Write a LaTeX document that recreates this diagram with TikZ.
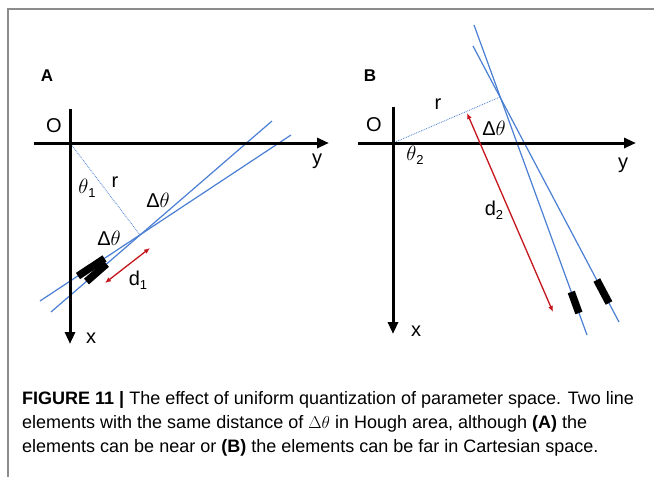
\documentclass[tikz,border=0pt]{standalone}
\usepackage{fontspec}
\setmainfont{Liberation Sans}
\usetikzlibrary{arrows.meta}
\definecolor{lineblue}{HTML}{4A7FD4}
\definecolor{arrred}{HTML}{C4161C}
\definecolor{framegray}{HTML}{8C8C8C}
\newcommand{\mysubtext}[1]{\raisebox{-4pt}{\fontsize{13}{13}\selectfont #1}}
\begin{document}
\begin{tikzpicture}[x=1pt,y=-1pt,
  axis/.style={line width=3pt,-{Triangle[length=12pt,width=10pt]}},
  hline/.style={lineblue,line width=1.2pt},
  rline/.style={lineblue,densely dotted,line width=0.8pt},
  darrow/.style={arrred,line width=1.3pt,{Latex[length=6pt,width=5pt]}-{Latex[length=6pt,width=5pt]}},
  elem/.style={black,line width=7.5pt},
  lbl/.style={font=\fontsize{20}{20}\selectfont,inner sep=0pt},
  panel/.style={font=\bfseries\fontsize{17}{17}\selectfont,inner sep=0pt},
  captext/.style={font=\fontsize{18}{18}\selectfont,inner sep=0pt,anchor=base west}]
\useasboundingbox (0,0) rectangle (654,477);
\fill[white] (0,0) rectangle (654,477);
% frame
\draw[framegray,line width=2pt] (654,8.5) -- (7.5,8.5) -- (7.5,477);

% ---------- Panel A ----------
\coordinate (OA) at (70,143);
\coordinate (AxT) at (70,109);
\coordinate (AxB) at (70,344);
\coordinate (AyL) at (34,143);
\coordinate (AyR) at (329,143);
\coordinate (a1) at (51,312);
\coordinate (a2) at (272,121);
\coordinate (b1) at (40,301);
\coordinate (b2) at (291,135);
\coordinate (P) at (140,235);
\coordinate (ea1) at (86.5,281.5);
\coordinate (ea2) at (106.5,264);
\coordinate (eb1) at (78,276);
\coordinate (eb2) at (104.5,258.5);
\coordinate (d1s) at (105,283);
\coordinate (d1e) at (150,248);

\draw[rline] (OA) -- (P);
\draw[hline] (a1) -- (a2);
\draw[hline] (b1) -- (b2);
\draw[elem] (ea1) -- (ea2);
\draw[elem] (eb1) -- (eb2);
\draw[axis] (AxT) -- (AxB);
\draw[axis] (AyL) -- (AyR);
\draw[darrow] (d1s) -- (d1e);

\node[panel] (labA) at (47,76) {A};
\node[lbl] (labOA) at (54,126) {O};
\node[lbl] (labyA) at (317,161) {y};
\node[lbl] (labxA) at (91,338) {x};
\node[lbl] (labth1) at (87,188) {$\theta$\mysubtext{1}};
\node[lbl] (labrA) at (115,182) {r};
\node[lbl] (labdtA1) at (158,200) {Δ$\theta$};
\node[lbl] (labdtA2) at (109,238) {Δ$\theta$};
\node[lbl] (labd1) at (138,280) {d\mysubtext{1}};

% ---------- Panel B ----------
\coordinate (OB) at (393,143);
\coordinate (BxT) at (393,107);
\coordinate (BxB) at (393,334);
\coordinate (ByL) at (358,143);
\coordinate (ByR) at (636,143);
\coordinate (s1) at (474,25);
\coordinate (s2) at (587,335);
\coordinate (t1) at (473,46);
\coordinate (t2) at (619,322);
\coordinate (Q) at (500,97);
\coordinate (es1) at (571.3,292);
\coordinate (es2) at (578.9,313);
\coordinate (et1) at (596.8,280);
\coordinate (et2) at (609,303);
\coordinate (d2s) at (467,113);
\coordinate (d2e) at (553,312);

\draw[rline] (OB) -- (Q);
\draw[hline] (s1) -- (s2);
\draw[hline] (t1) -- (t2);
\draw[elem] (es1) -- (es2);
\draw[elem] (et1) -- (et2);
\draw[axis] (BxT) -- (BxB);
\draw[axis] (ByL) -- (ByR);
\draw[darrow] (d2s) -- (d2e);

\node[panel] (labB) at (370,76) {B};
\node[lbl] (labOB) at (374,125) {O};
\node[lbl] (labyB) at (623,165) {y};
\node[lbl] (labxB) at (416,331) {x};
\node[lbl] (labth2) at (415,155) {$\theta$\mysubtext{2}};
\node[lbl] (labrB) at (438,104) {r};
\node[lbl] (labdtB) at (494,128) {Δ$\theta$};
\node[lbl] (labd2) at (494,210) {d\mysubtext{2}};

% ---------- Caption ----------
\node[captext] (cap1) at (22,404) {\textbf{FIGURE 11 |} The effect of uniform quantization of parameter space. Two line};
\node[captext] (cap2) at (22,428) {elements with the same distance of $\Delta\theta$ in Hough area, although \textbf{(A)} the};
\node[captext] (cap3) at (22,452) {elements can be near or \textbf{(B)} the elements can be far in Cartesian space.};
\end{tikzpicture}
\end{document}
